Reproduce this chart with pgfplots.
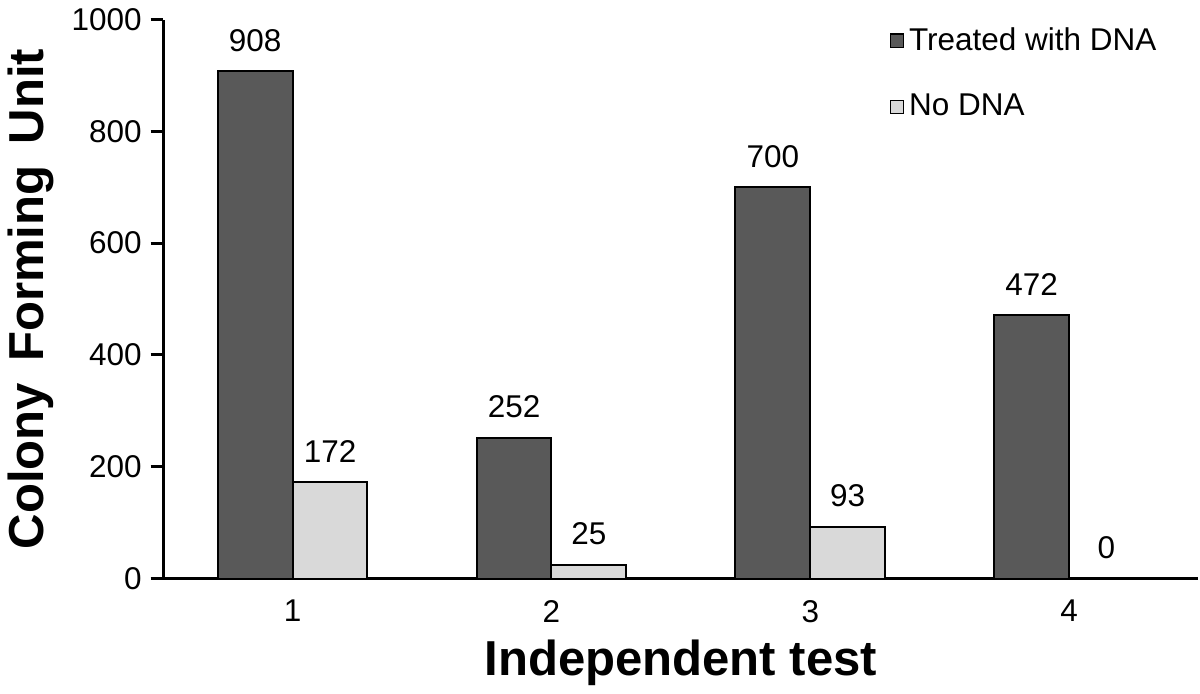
\documentclass[border=0pt]{standalone}
\usepackage{pgfplots}
\pgfplotsset{compat=1.18}
\usepackage{fontspec}
\setmainfont{Liberation Sans}
\definecolor{darkbar}{HTML}{595959}
\definecolor{lightbar}{HTML}{D9D9D9}
\begin{document}
\begin{tikzpicture}
\begin{axis}[
    scale only axis,
    width=409.6bp, height=221.2bp,
    ybar=0pt, bar width=29.6bp,
    xmin=0.5, xmax=4.5, ymin=0, ymax=1000,
    xtick={1,2,3,4}, ytick={0,200,...,1000},
    axis lines=left,
    axis line style={-, line width=1.2bp},
    major x tick style={draw=none},
    major y tick style={line width=1.2bp, black},
    tick align=outside, major tick length=5bp,
    ticklabel style={font=\fontsize{12.5}{14}\selectfont},
    /pgf/number format/assume math mode=true,
    /pgf/number format/1000 sep={},
    xlabel={\textbf{Independent test}},
    ylabel={\textbf{Colony\ \hspace{0.15em}Forming\ \hspace{0.15em}Unit}},
    label style={font=\fontsize{19.5}{22}\selectfont},
    nodes near coords,
    every node near coord/.append style={font=\fontsize{12.5}{14}\selectfont, text=black, yshift=4bp},
    clip=false,
    legend style={draw=none, at={(0.972,1.005)}, anchor=north east,
                  font=\fontsize{12.5}{14}\selectfont, row sep=12bp,
                  /tikz/every even column/.append style={column sep=3bp}},
    legend image code/.code={\draw[#1, draw=black, line width=0.5bp] (0bp,-2.6bp) rectangle (5.2bp,2.6bp);},
    legend cell align=left,
]
\addplot[fill=darkbar, draw=black, line width=0.8bp]
  coordinates {(1,908) (2,252) (3,700) (4,472)};
\addlegendentry{Treated with DNA}
\addplot[fill=lightbar, draw=black, line width=0.8bp]
  coordinates {(1,172) (2,25) (3,93) (4,0)};
\addlegendentry{No DNA}
\end{axis}
\end{tikzpicture}
\end{document}
